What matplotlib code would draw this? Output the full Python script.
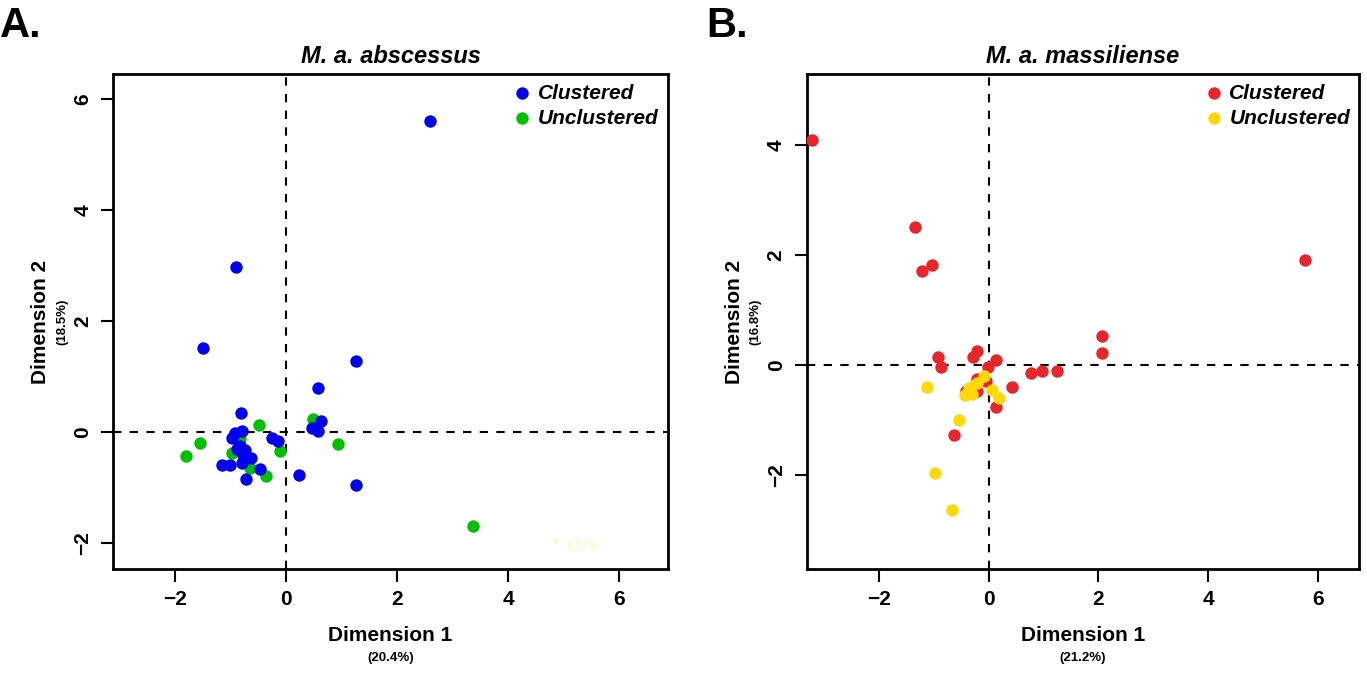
import matplotlib.pyplot as plt

plt.rcParams['font.family'] = ['Liberation Sans', 'DejaVu Sans']
plt.rcParams['font.weight'] = 'bold'

# M. a. abscessus
abs_clu_x = [2.59, -0.90, -1.50, 1.26, 0.58, -0.81, 1.26, 0.23, 0.63, 0.46, 0.57, -0.92,
             -0.80, -0.97, -0.26, -0.15, -0.83, -0.88, -0.74, -0.78, -0.64, -0.79, -1.16,
             -1.01, -0.47, -0.73]
abs_clu_y = [5.60, 2.97, 1.51, 1.28, 0.79, 0.34, -0.95, -0.77, 0.20, 0.08, 0.01, -0.01,
             0.02, -0.10, -0.11, -0.16, -0.26, -0.31, -0.32, -0.41, -0.46, -0.55, -0.60,
             -0.60, -0.67, -0.84]
abs_unc_x = [3.37, 0.48, -0.49, -1.56, -1.80, 0.93, -0.11, -0.84, -0.98, -0.65, -0.36]
abs_unc_y = [-1.69, 0.23, 0.13, -0.20, -0.43, -0.22, -0.34, -0.13, -0.38, -0.64, -0.79]
abs_faint = (4.85, -1.96, '1379')

# M. a. massiliense
mas_clu_x = [-3.22, -1.35, -1.04, -1.22, 5.77, 2.06, 2.06, -0.93, -0.86, -0.22, -0.28,
             0.13, -0.02, 0.77, 0.97, 1.24, 0.42, -0.22, -0.05, -0.42, -0.21, 0.13, -0.64]
mas_clu_y = [4.09, 2.51, 1.82, 1.71, 1.91, 0.53, 0.22, 0.14, -0.04, 0.25, 0.15,
             0.10, -0.03, -0.14, -0.11, -0.10, -0.39, -0.25, -0.29, -0.47, -0.48, -0.76, -1.27]
mas_unc_x = [-1.13, -0.09, -0.21, -0.36, -0.44, -0.30, 0.06, 0.19, -0.54, -0.97, -0.67]
mas_unc_y = [-0.39, -0.19, -0.32, -0.41, -0.55, -0.53, -0.45, -0.59, -1.00, -1.96, -2.64]

fig = plt.figure(figsize=(13.67, 6.75), dpi=100)
ax1 = fig.add_axes([0.0827, 0.157, 0.406, 0.733])
ax2 = fig.add_axes([0.590, 0.157, 0.4045, 0.733])

def style(ax, xlim, ylim, yticks, title, pct1, pct2):
    ax.set_xlim(*xlim)
    ax.set_ylim(*ylim)
    ax.axhline(0, color='black', ls=(0, (4, 4)), lw=1.5, zorder=1)
    ax.axvline(0, color='black', ls=(0, (4, 4)), lw=1.5, zorder=1)
    ax.set_xticks([-2, 0, 2, 4, 6])
    ax.set_xticklabels(['\u22122', '0', '2', '4', '6'], fontweight='bold')
    ax.set_yticks(yticks)
    ax.set_yticklabels([str(t).replace('-', '\u2212') for t in yticks],
                       rotation=90, va='center', fontweight='bold')
    ax.tick_params(labelsize=15, length=9, width=1.5, pad=6)
    for s in ax.spines.values():
        s.set_linewidth(2)
    ax.set_title(title, fontsize=17, style='italic', weight='bold', pad=8)
    ax.text(0.5, -0.135, 'Dimension 1', transform=ax.transAxes, ha='center',
            va='center', fontsize=15, weight='bold')
    ax.text(0.5, -0.18, pct1, transform=ax.transAxes, ha='center',
            va='center', fontsize=9.5, weight='bold')
    ax.text(-0.131, 0.5, 'Dimension 2', transform=ax.transAxes, ha='center',
            va='center', fontsize=15, weight='bold', rotation=90)
    ax.text(-0.092, 0.5, pct2, transform=ax.transAxes, ha='center',
            va='center', fontsize=9.5, weight='bold', rotation=90)

style(ax1, (-3.12, 6.88), (-2.47, 6.45), [-2, 0, 2, 4, 6], 'M. a. abscessus', '(20.4%)', '(18.5%)')
style(ax2, (-3.32, 6.76), (-3.71, 5.29), [-2, 0, 2, 4], 'M. a. massiliense', '(21.2%)', '(16.8%)')

blue, green, red, yellow = '#0000ee', '#00c000', '#e8252b', '#ffd80a'
ax1.scatter(abs_unc_x, abs_unc_y, s=80, color=green, linewidths=0, zorder=3)
ax1.scatter(abs_clu_x, abs_clu_y, s=80, color=blue, linewidths=0, zorder=3)
ax1.scatter([abs_faint[0]], [abs_faint[1]], s=14, color='#fcf9cc', linewidths=0, zorder=2)
ax1.text(abs_faint[0] + 0.17, abs_faint[1] - 0.1, abs_faint[2], color='#fcf9cc',
         fontsize=10, va='center', zorder=2)

ax2.scatter(mas_clu_x, mas_clu_y, s=80, color=red, linewidths=0, zorder=3)
ax2.scatter(mas_unc_x, mas_unc_y, s=80, color=yellow, linewidths=0, zorder=3)

def legend(ax, c1, c2):
    h1 = ax.scatter([], [], s=80, color=c1, linewidths=0)
    h2 = ax.scatter([], [], s=80, color=c2, linewidths=0)
    ax.legend([h1, h2], ['Clustered', 'Unclustered'], loc='upper right',
              frameon=False, prop={'size': 15, 'weight': 'bold', 'style': 'italic'},
              handletextpad=0.15, labelspacing=0.3, borderaxespad=0.3,
              borderpad=0.15, handlelength=1.2)

legend(ax1, blue, green)
legend(ax2, red, yellow)

fig.text(0.0, 0.962, 'A.', fontsize=30, weight='bold', va='center', ha='left')
fig.text(0.517, 0.962, 'B.', fontsize=30, weight='bold', va='center', ha='left')

fig.savefig('out.png', dpi=100)
